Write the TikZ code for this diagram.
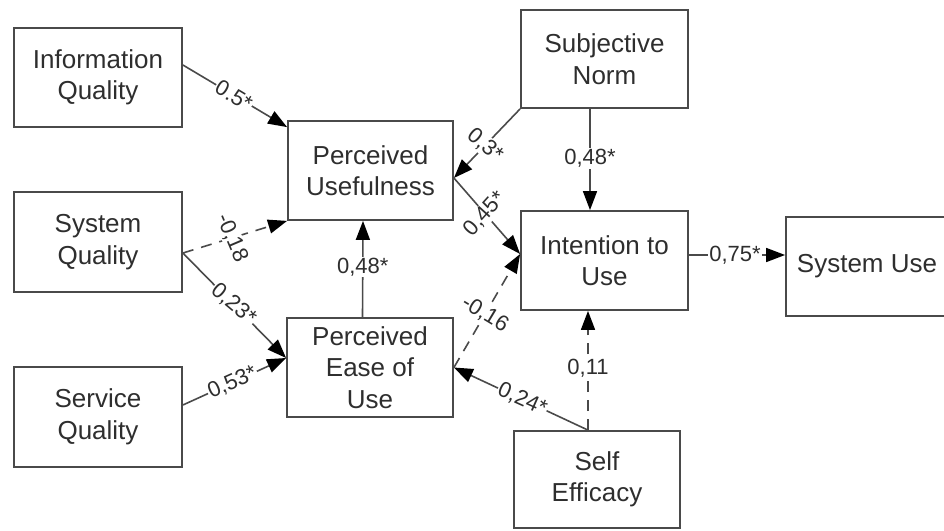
\documentclass[tikz,border=0pt]{standalone}
\usepackage{fontspec}
\setmainfont{Liberation Sans}
\usetikzlibrary{arrows.meta}
\definecolor{edgegray}{HTML}{4A4A4A}
\definecolor{textgray}{HTML}{2E2E2E}
\begin{document}
\begin{tikzpicture}[x=1pt,y=-1pt,
  box/.style={draw=edgegray, line width=1.8pt, rectangle, inner sep=0pt,
    align=center, text=textgray, font=\fontsize{26}{31.5}\selectfont},
  link/.style={draw=edgegray, line width=1.6pt,
    -{Triangle[length=19pt,width=14pt,color=black]}},
  dlink/.style={link, dash pattern=on 11pt off 8pt},
  lbl/.style={fill=white, inner sep=1pt, text=textgray,
    font=\fontsize{22}{24}\selectfont}]
\useasboundingbox (0,0) rectangle (944,530);

% constructs
\node[box, minimum width=168pt, minimum height=99pt]  (iq)   at (98,77.5)    {Information\\Quality};
\node[box, minimum width=168pt, minimum height=100pt] (sq)   at (98,242)     {System\\Quality};
\node[box, minimum width=168pt, minimum height=100pt] (svq)  at (98,417)     {Service\\Quality};
\node[box, minimum width=165pt, minimum height=99pt]  (pu)   at (370.5,170.5){Perceived\\Usefulness};
\node[box, minimum width=166pt, minimum height=99pt]  (peou) at (370,367.5)  {Perceived\\Ease of\\Use};
\node[box, minimum width=167pt, minimum height=98pt]  (sn)   at (604.5,59)   {Subjective\\Norm};
\node[box, minimum width=167pt, minimum height=99pt]  (iu)   at (604.5,260.5){Intention to\\Use};
\node[box, minimum width=166pt, minimum height=97pt]  (se)   at (597,479.5)  {Self\\Efficacy};
\node[box, minimum width=162pt, minimum height=99pt]  (su)   at (867,266.5)  {System Use};

% paths
\draw[link]  ([yshift=12.5pt]iq.east) -- node[lbl, pos=0.49, rotate=-31] {0.5*} ([yshift=-7pt]pu.north west);
\draw[dlink] ([yshift=-11pt]sq.east) -- node[lbl, pos=0.47, rotate=-67] {-0,18} (pu.south west);
\draw[link]  ([yshift=-11pt]sq.east) -- node[lbl, pos=0.49, rotate=-40] {0,23*} ([yshift=9.5pt]peou.west);
\draw[link]  ([yshift=12pt]svq.east) -- node[lbl, pos=0.48, rotate=24] {0,53*} ([yshift=9.5pt]peou.west);
\draw[link]  ([xshift=-7.5pt]peou.north) -- node[lbl, pos=0.52] {0,48*} ([xshift=-7.5pt]pu.south);
\draw[link]  (sn.south west) -- node[lbl, pos=0.53, rotate=-40] {0,3*} ([yshift=-7.5pt]pu.east);
\draw[link]  ([yshift=-7.5pt]pu.east) -- node[lbl, pos=0.47, rotate=48] {0,45*} ([yshift=6.5pt]iu.west);
\draw[dlink] (peou.east) -- node[lbl, pos=0.47, rotate=-31] {-0,16} ([yshift=6.5pt]iu.west);
\draw[link]  ([xshift=-9pt]se.north) -- node[lbl, pos=0.49, rotate=-24] {0,24*} (peou.east);
\draw[dlink] ([xshift=-9pt]se.north) -- node[lbl, pos=0.52] {0,11} ([xshift=-16.5pt]iu.south);
\draw[link]  ([xshift=-14.5pt]sn.south) -- node[lbl, pos=0.49] {0,48*} ([xshift=-14.5pt]iu.north);
\draw[link]  ([yshift=5.5pt]iu.east) -- node[lbl, pos=0.48] {0,75*} ([yshift=11.5pt]su.west);
\end{tikzpicture}
\end{document}
